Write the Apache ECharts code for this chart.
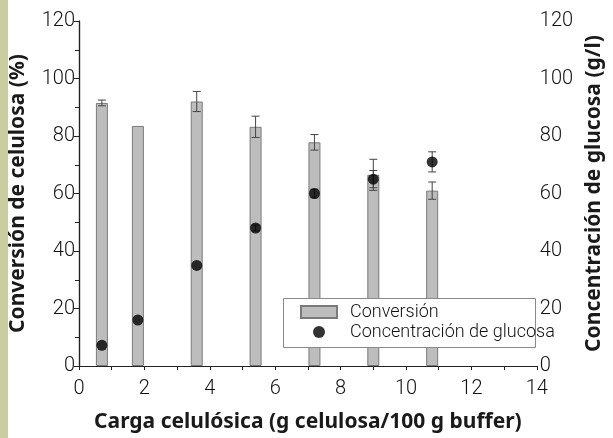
<!DOCTYPE html>
<html>
<head>
<meta charset="utf-8">
<script src="https://cdn.jsdelivr.net/npm/echarts@6/dist/echarts.min.js"></script>
<style>
html,body{margin:0;padding:0;background:#fff;}
#c{width:613px;height:438px;}
</style>
</head>
<body>
<div id="c"></div>
<script>
// Data
const loadings = [0.7, 1.8, 3.6, 5.4, 7.2, 9.0, 10.8];        // g celulosa / 100 g buffer
const conversion = [91.5, 83.5, 92, 83.2, 77.8, 66.5, 61];      // %
const conversionErr = [1, 0, 3.5, 3.7, 2.7, 5.4, 3];
const glucose = [7.2, 16, 35, 48, 60, 65, 71];                   // g/l
const glucoseErr = [0, 0, 0, 1, 1.5, 3, 3.5];
const xTicks = [0, 2, 4, 6, 8, 10, 12, 14];
const yTicks = [0, 20, 40, 60, 80, 100, 120];

const chart = echarts.init(document.getElementById('c'), null, {renderer: 'canvas'});
const light = "Roboto, 'Noto Sans', sans-serif";
const tickFont = {fontFamily: light, fontWeight: 300, fontSize: 20, color: '#111'};
const titleFont = {fontFamily: "'Noto Sans', 'DejaVu Sans', sans-serif", fontWeight: 'bold', fontSize: 21, color: '#1a1a1a'};

function errItem(params, api) {
  const x = api.value(0), y = api.value(1), e = api.value(2);
  if (!e) return;
  const top = api.coord([x, y + e]);
  const bot = api.coord([x, y - e]);
  const w = 4;
  const style = {stroke: '#444', lineWidth: 1};
  return {
    type: 'group',
    children: [
      {type: 'line', shape: {x1: top[0], y1: top[1], x2: bot[0], y2: bot[1]}, style},
      {type: 'line', shape: {x1: top[0]-w, y1: top[1], x2: top[0]+w, y2: top[1]}, style},
      {type: 'line', shape: {x1: bot[0]-w, y1: bot[1], x2: bot[0]+w, y2: bot[1]}, style}
    ]
  };
}

const barData = loadings.map((x, i) => [x, conversion[i]]);
const barErr = loadings.map((x, i) => [x, conversion[i], conversionErr[i]]);
const dotData = loadings.map((x, i) => [x, glucose[i]]);
const dotErr = loadings.map((x, i) => [x, glucose[i], glucoseErr[i]]);

const option = {
  backgroundColor: '#fff',
  animation: false,
  graphic: [
    {type: 'rect', left: 0, top: 0, shape: {width: 8, height: 438}, style: {fill: '#c8cda2'}, z: 100},
    {type: 'rect', left: 283, top: 298, shape: {width: 252, height: 49}, style: {fill: '#fff', stroke: '#8a8a8a', lineWidth: 1}, z: 5}
  ],
  grid: {left: 79, right: 57, top: 21, bottom: 68, containLabel: false},
  legend: {
    orient: 'vertical', left: 283, top: 299,
    itemWidth: 36, itemHeight: 12, itemGap: 2,
    padding: [4, 4, 4, 17],
    z: 6,
    textStyle: {fontFamily: light, fontWeight: 300, fontSize: 18, color: '#111', padding: [0, 0, 0, 8]},
    data: [
      {name: 'Conversión', icon: 'rect'},
      {name: 'Concentración de glucosa', icon: 'circle'}
    ]
  },
  xAxis: [{
    type: 'value', min: 0, max: 14, interval: 2,
    name: 'Carga celulósica (g celulosa/100 g buffer)', nameLocation: 'middle', nameGap: 46,
    nameTextStyle: titleFont,
    axisLine: {lineStyle: {color: '#222', width: 1.2}},
    axisTick: {inside: false, length: 4, lineStyle: {color: '#222'}},
    minorTick: {show: true, splitNumber: 2, length: 3, lineStyle: {color: '#222'}},
    axisLabel: Object.assign({margin: 13, formatter: v => xTicks.includes(v) ? String(v) : ''}, tickFont),
    splitLine: {show: false}
  }, {
    type: 'value', min: 0, max: 14, interval: 2, position: 'top',
    axisLine: {lineStyle: {color: '#222', width: 1.2}},
    axisTick: {inside: true, length: 4, lineStyle: {color: '#222'}},
    minorTick: {show: true, splitNumber: 2, length: 4, lineStyle: {color: '#222'}},
    axisLabel: {show: false}, splitLine: {show: false}
  }],
  yAxis: [{
    type: 'value', min: 0, max: 120, interval: 20,
    name: 'Conversión de celulosa (%)', nameLocation: 'middle', nameGap: 50, nameRotate: 90,
    nameTextStyle: titleFont,
    axisLine: {show: true, lineStyle: {color: '#222', width: 1.2}},
    axisTick: {show: true, inside: false, length: 5, lineStyle: {color: '#222'}},
    minorTick: {show: true, splitNumber: 2, length: 4, lineStyle: {color: '#222'}},
    axisLabel: Object.assign({margin: 4, formatter: v => yTicks.includes(v) ? String(v) : ''}, tickFont),
    splitLine: {show: false}
  }, {
    type: 'value', min: 0, max: 120, interval: 20, position: 'right',
    name: 'Concentración de glucosa (g/l)', nameLocation: 'middle', nameGap: 41, nameRotate: 90,
    nameTextStyle: titleFont,
    axisLine: {show: true, lineStyle: {color: '#222', width: 1.2}},
    axisTick: {show: true, inside: true, length: 5, lineStyle: {color: '#222'}},
    minorTick: {show: true, splitNumber: 2, length: 4, lineStyle: {color: '#222'}},
    axisLabel: Object.assign({margin: 3, formatter: v => yTicks.includes(v) ? String(v) : ''}, tickFont),
    splitLine: {show: false}
  }],
  series: [{
    name: 'Conversión', type: 'bar', xAxisIndex: 0, yAxisIndex: 0,
    barWidth: 12, data: barData,
    itemStyle: {color: '#bdbdbd', borderColor: '#7a7a7a', borderWidth: 1},
    z: 2
  }, {
    type: 'custom', xAxisIndex: 0, yAxisIndex: 0, data: barErr,
    renderItem: errItem, z: 3, silent: true
  }, {
    type: 'custom', xAxisIndex: 0, yAxisIndex: 1, data: dotErr,
    renderItem: errItem, z: 3, silent: true
  }, {
    name: 'Concentración de glucosa', type: 'scatter', xAxisIndex: 0, yAxisIndex: 1,
    symbolSize: 11, data: dotData,
    itemStyle: {color: '#000'}, z: 4
  }]
};
chart.setOption(option);
</script>
</body>
</html>
